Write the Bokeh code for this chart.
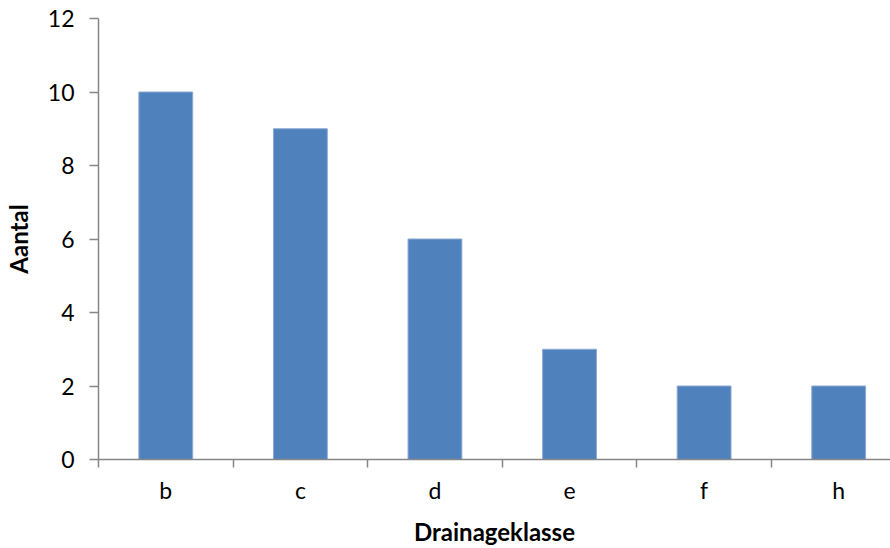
from bokeh.plotting import figure
from bokeh.models import FixedTicker, Range1d
from bokeh.embed import file_html
from bokeh.resources import INLINE

categories = ["b", "c", "d", "e", "f", "h"]
counts = [10, 9, 6, 3, 2, 2]
y_ticks = [0, 2, 4, 6, 8, 10, 12]

FONT = "Lato"
AXIS_COLOR = "#868686"
BAR_COLOR = "#4F81BD"

centers = [i + 0.5 for i in range(len(categories))]

p = figure(width=890, height=548, output_backend="svg", toolbar_location=None,
           x_range=Range1d(0, 5.885), y_range=Range1d(0, 12),
           min_border_left=97, min_border_right=0, min_border_top=18,
           min_border_bottom=88)
p.outline_line_color = None
p.grid.visible = False
p.background_fill_color = "white"
p.border_fill_color = "white"

p.vbar(x=centers, top=counts, width=0.4, fill_color=BAR_COLOR,
       line_color="#8DA9D4", line_width=1)

# x axis
xa = p.xaxis[0]
xa.ticker = FixedTicker(ticks=centers, minor_ticks=list(range(len(categories) + 1)))
xa.major_label_overrides = {c: lab for c, lab in zip(centers, categories)}
xa.major_tick_out = 0
xa.major_tick_in = 0
xa.minor_tick_out = 8
xa.minor_tick_in = 0
xa.minor_tick_line_color = AXIS_COLOR
xa.axis_line_color = AXIS_COLOR
xa.axis_line_width = 1.5
xa.minor_tick_line_width = 1.5
xa.major_label_standoff = 8
xa.major_label_text_font = FONT
xa.major_label_text_font_size = "23px"
xa.major_label_text_color = "#000000"
xa.axis_label = "Drainageklasse"
xa.axis_label_text_font = FONT
xa.axis_label_text_font_size = "24px"
xa.axis_label_text_font_style = "bold"
xa.axis_label_text_color = "#000000"
xa.axis_label_standoff = 10

# y axis
ya = p.yaxis[0]
ya.ticker = FixedTicker(ticks=y_ticks, minor_ticks=[])
ya.major_tick_out = 9
ya.major_tick_in = 0
ya.major_tick_line_color = AXIS_COLOR
ya.major_tick_line_width = 1.5
ya.axis_line_color = AXIS_COLOR
ya.axis_line_width = 1.5
ya.minor_tick_line_color = None
ya.major_label_standoff = 15
ya.major_label_text_font = FONT
ya.major_label_text_font_size = "23px"
ya.major_label_text_color = "#000000"
ya.axis_label = "Aantal"
ya.axis_label_text_font = FONT
ya.axis_label_text_font_size = "24px"
ya.axis_label_text_font_style = "bold"
ya.axis_label_text_color = "#000000"
ya.axis_label_standoff = 12

open("out.html", "w").write(file_html(p, INLINE))
